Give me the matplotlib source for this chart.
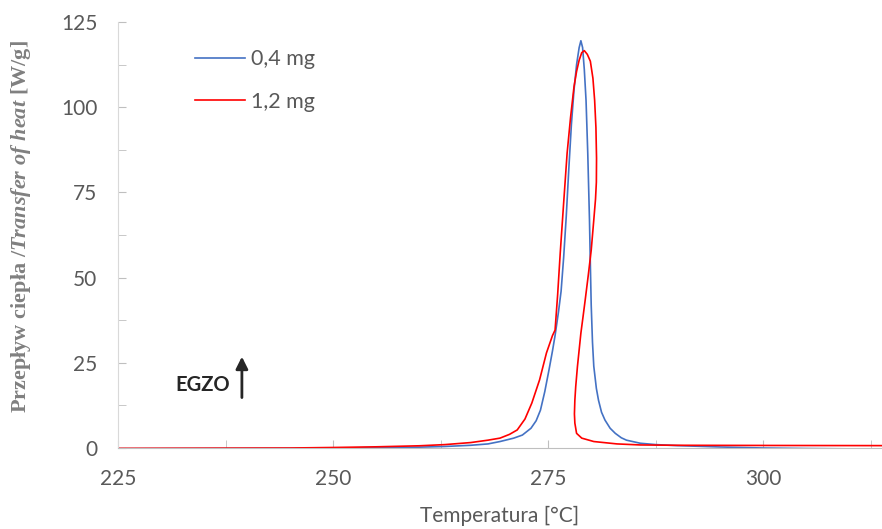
import matplotlib.pyplot as plt
from matplotlib.ticker import MultipleLocator

plt.rcParams['mathtext.fontset'] = 'custom'
plt.rcParams['mathtext.rm'] = 'Liberation Serif:bold'
plt.rcParams['mathtext.bf'] = 'Liberation Serif:bold'
plt.rcParams['mathtext.it'] = 'Liberation Serif:bold:italic'

# 0,4 mg
t_04 = [225, 235, 245, 250, 255, 260, 263, 266, 268, 269.4, 271, 272, 273.0, 273.6,
        274.1, 274.6, 275.1, 275.5, 275.8, 276.2, 276.5, 276.8, 277.1, 277.4, 277.7,
        278.0, 278.3, 278.6, 278.8, 279.0, 279.2, 279.4, 279.6, 279.8, 279.9, 280.0,
        280.15, 280.3, 280.6, 280.85, 281.2, 281.6, 282.2, 282.8, 283.5, 284.1, 285.7,
        287.5, 290, 295, 300, 305, 310, 314]
q_04 = [-0.2, -0.15, -0.1, 0.0, 0.1, 0.25, 0.45, 0.8, 1.2, 1.9, 2.9, 3.8, 5.8, 8,
        11.1, 16.5, 23, 28.5, 33, 40, 46, 56, 68, 82, 95,
        105, 112.5, 117.5, 119.5, 117.5, 111, 102, 86.5, 66.9, 54, 42,
        31, 24, 17.5, 14, 10.5, 8.2, 5.8, 4.3, 3.0, 2.3, 1.4,
        1.0, 0.7, 0.3, 0.0, -0.15, -0.25, -0.3]

# 1,2 mg (petla - temperatura probki sie cofa)
t_12 = [225, 235, 245, 250, 255, 260, 263, 266, 268, 269.4, 270.5, 271.4, 272.3, 273.1,
        274.0, 274.8, 275.5, 275.8, 276.1, 276.4, 276.8, 277.2, 277.6, 278.0, 278.3,
        278.6, 278.9, 279.2, 279.55, 279.9, 280.2, 280.4, 280.55, 280.62, 280.6, 280.5,
        280.3, 280.0, 279.65, 279.3, 279.05, 278.8, 278.6, 278.4, 278.2, 278.1, 278.05,
        278.1, 278.3, 278.9, 280.3, 283.0, 285.7, 290, 300, 314]
q_12 = [-0.1, -0.05, 0.0, 0.15, 0.35, 0.65, 1.0, 1.6, 2.3, 2.9, 4.0, 5.3, 8.5, 13.2,
        20, 27.9, 33, 34.6, 45, 57.2, 72, 86.5, 97, 106, 110.5,
        113.8, 116, 116.6, 115.5, 113.5, 108.5, 102, 94, 85, 78, 73,
        66.9, 58, 50.5, 43.4, 38.5, 33.7, 28.8, 23.9, 18, 14, 10,
        7.3, 4.3, 2.9, 1.9, 1.2, 0.9, 0.8, 0.75, 0.7]

fig = plt.figure(figsize=(8.82, 5.29), dpi=100)
ax = fig.add_axes([0.1338, 0.1531, 0.8662, 0.8053])

ax.plot(t_04, q_04, color='#4472C4', lw=1.2, label='0,4 mg')
ax.plot(t_12, q_12, color='#FF0000', lw=1.2, label='1,2 mg')

ax.set_xlim(225, 313.8)
ax.set_ylim(0, 125)
ax.xaxis.set_major_locator(MultipleLocator(25))
ax.xaxis.set_minor_locator(MultipleLocator(12.5))
ax.yaxis.set_major_locator(MultipleLocator(25))
ax.yaxis.set_minor_locator(MultipleLocator(12.5))
ax.tick_params(which='both', direction='in', length=6, color='#BFBFBF',
               labelcolor='#595959', labelsize=15)
ax.tick_params(axis='x', pad=15)
ax.tick_params(axis='y', pad=15)
for lab in ax.get_xticklabels() + ax.get_yticklabels():
    lab.set_family('Lato')

ax.spines['top'].set_visible(False)
ax.spines['right'].set_visible(False)
ax.spines['left'].set_color('#D9D9D9')
ax.spines['bottom'].set_color('#BFBFBF')

ax.set_xlabel('Temperatura [°C]', family='Lato', fontsize=15, color='#595959', labelpad=12)
ax.set_ylabel(r'$\mathrm{Przepływ\ ciepła\ /}\mathit{Transfer\ of\ heat}\mathrm{\ [W/g]}$',
              fontsize=16, color='#808080')
ax.yaxis.set_label_coords(-0.111, 0.519)

leg = ax.legend(loc='upper left', bbox_to_anchor=(0.1008, 0.936), frameon=False,
                borderaxespad=0, borderpad=0,
                handlelength=2.3, handletextpad=0.3, labelspacing=1.05,
                prop={'family': 'Lato', 'size': 15.5})
for txt in leg.get_texts():
    txt.set_color('#595959')

ax.text(234.9, 18.5, 'EGZO', family='Lato', fontweight='bold', fontsize=14.5,
        color='#262626', ha='center', va='center')
ax.annotate('', xy=(239.4, 26.8), xytext=(239.4, 14.8),
            arrowprops=dict(arrowstyle='-|>', color='#262626', lw=2,
                            mutation_scale=18, shrinkA=0, shrinkB=0))

fig.savefig('out.png', dpi=100)
